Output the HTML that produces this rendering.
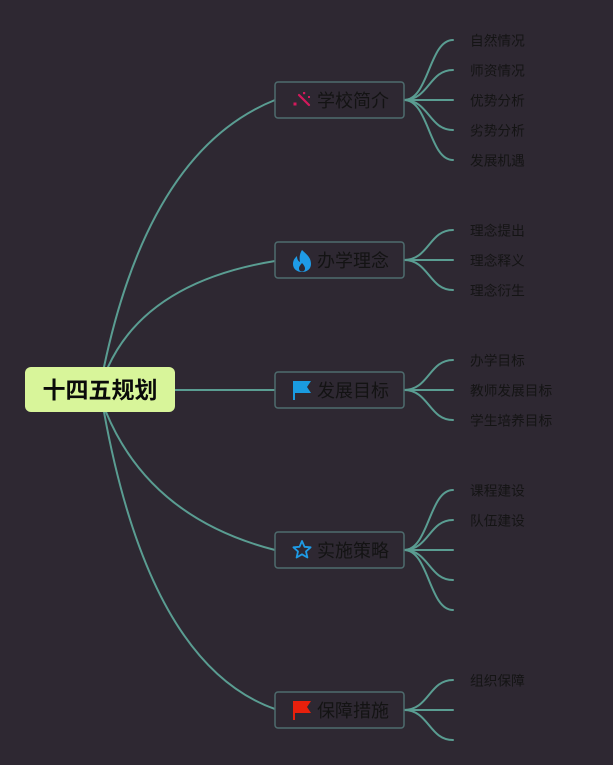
<!DOCTYPE html>
<html><head><meta charset="utf-8"><style>
html,body{margin:0;padding:0;background:#2e2832;}
svg{display:block;}
text{font-family:"Liberation Sans","Noto Sans CJK SC",sans-serif;}
</style></head><body>
<svg width="613" height="765" viewBox="0 0 613 765" xmlns="http://www.w3.org/2000/svg">
<rect width="613" height="765" fill="#2e2832"/>
<g fill="none" stroke="#5a9d92" stroke-width="2" stroke-linecap="round">
  <!-- root curves -->
  <path d="M104,367 Q150,150 275,100"/>
  <path d="M108,367 Q147,282 275,261"/>
  <path d="M175,390 L275,390"/>
  <path d="M106,412 Q150,518 275,550"/>
  <path d="M104,412 Q150,665 275,709"/>
  <!-- leaves 学校简介 -->
  <path d="M404,100 C429,100 429,40 453,40"/>
  <path d="M404,100 C429,100 429,70 453,70"/>
  <path d="M404,100 L453,100"/>
  <path d="M404,100 C429,100 429,130 453,130"/>
  <path d="M404,100 C429,100 429,160 453,160"/>
  <!-- 办学理念 -->
  <path d="M404,260 C429,260 429,230 453,230"/>
  <path d="M404,260 L453,260"/>
  <path d="M404,260 C429,260 429,290 453,290"/>
  <!-- 发展目标 -->
  <path d="M404,390 C429,390 429,360 453,360"/>
  <path d="M404,390 L453,390"/>
  <path d="M404,390 C429,390 429,420 453,420"/>
  <!-- 实施策略 -->
  <path d="M404,550 C429,550 429,490 453,490"/>
  <path d="M404,550 C429,550 429,520 453,520"/>
  <path d="M404,550 L453,550"/>
  <path d="M404,550 C429,550 429,580 453,580"/>
  <path d="M404,550 C429,550 429,610 453,610"/>
  <!-- 保障措施 -->
  <path d="M404,710 C429,710 429,680 453,680"/>
  <path d="M404,710 L453,710"/>
  <path d="M404,710 C429,710 429,740 453,740"/>
</g>
<!-- root -->
<rect x="25" y="367" width="150" height="45" rx="6" fill="#d8f59a"/>
<text x="100" y="390" font-size="23" font-weight="bold" fill="#0a0a0a" text-anchor="middle" dominant-baseline="central">十四五规划</text>
<!-- branch nodes -->
<g fill="#2e2832" stroke="#4e6c6e" stroke-width="1.5">
  <rect x="275" y="82" width="129" height="36" rx="3"/>
  <rect x="275" y="242" width="129" height="36" rx="3"/>
  <rect x="275" y="372" width="129" height="36" rx="3"/>
  <rect x="275" y="532" width="129" height="36" rx="3"/>
  <rect x="275" y="692" width="129" height="36" rx="3"/>
</g>
<g font-size="18" fill="#131313" dominant-baseline="central">
  <text x="317" y="101">学校简介</text>
  <text x="317" y="261">办学理念</text>
  <text x="317" y="391">发展目标</text>
  <text x="317" y="551">实施策略</text>
  <text x="317" y="711">保障措施</text>
</g>
<!-- icons -->
<!-- wand -->
<g stroke="#d4195c" stroke-width="2.2" stroke-linecap="round" fill="#d4195c">
  <line x1="299" y1="95" x2="309" y2="105"/>
  <rect x="293.5" y="102.5" width="3" height="3" stroke="none"/>
  <rect x="303" y="92" width="2.2" height="2.2" stroke="none"/>
  <rect x="308" y="96" width="2" height="2" stroke="none"/>
</g>
<!-- flame -->
<path d="M302,250 C306,254 311,257 311,264 C311,269 307,272 302,272 C297,272 293,269 293,264 C293,260 295,258 297,256 C297,259 298,261 300,262 C299,257 300,253 302,250 Z" fill="#1e9be6"/>
<path d="M302,263 C304,265 305,267 305,268.5 C305,270.5 303.6,271.5 302,271.5 C300.4,271.5 299,270.5 299,268.5 C299,266.5 300.5,265 302,263 Z" fill="#2e2832"/>
<!-- blue flag -->
<path d="M293,381 L311,381 L307,387 L311,393 L295,393 L295,400 L293,400 Z" fill="#1a9be0"/>
<!-- star -->
<path d="M302,541 L304.5,546.8 L310.6,547.3 L306,551.4 L307.4,557.5 L302,554.3 L296.6,557.5 L298,551.4 L293.4,547.3 L299.5,546.8 Z" fill="none" stroke="#1e9be6" stroke-width="1.8" stroke-linejoin="round"/>
<!-- red flag -->
<path d="M293,701 L311,701 L307,707 L311,713 L295,713 L295,720 L293,720 Z" fill="#e8200c"/>
<!-- leaves -->
<g font-size="13.7" fill="#141414" dominant-baseline="central">
  <text x="470" y="41">自然情况</text>
  <text x="470" y="71">师资情况</text>
  <text x="470" y="101">优势分析</text>
  <text x="470" y="131">劣势分析</text>
  <text x="470" y="161">发展机遇</text>
  <text x="470" y="231">理念提出</text>
  <text x="470" y="261">理念释义</text>
  <text x="470" y="291">理念衍生</text>
  <text x="470" y="361">办学目标</text>
  <text x="470" y="391">教师发展目标</text>
  <text x="470" y="421">学生培养目标</text>
  <text x="470" y="491">课程建设</text>
  <text x="470" y="521">队伍建设</text>
  <text x="470" y="681">组织保障</text>
</g>
</svg>
</body></html>
